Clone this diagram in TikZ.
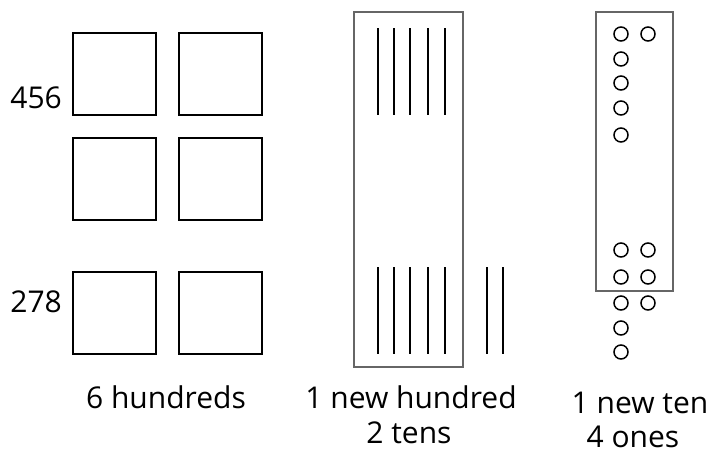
\documentclass[tikz,border=0pt]{standalone}
\usepackage{fontspec}
\setmainfont{Open Sans}
\begin{document}
\begin{tikzpicture}[x=1pt,y=-1pt,
  hsq/.style={draw=black,line width=2pt,minimum width=83pt,minimum height=82pt,inner sep=0pt},
  frame/.style={draw=black!60,line width=1.6pt},
  rod/.style={line width=2pt},
  unit/.style={circle,draw=black,line width=1.5pt,minimum size=14pt,inner sep=0pt},
  lbl/.style={font=\fontsize{30}{35}\selectfont,inner sep=0pt}]
\useasboundingbox (0,0) rectangle (707,453);
% hundreds
\node[hsq] (s1) at (114.5,74) {};
\node[hsq] (s2) at (220.5,74) {};
\node[hsq] (s3) at (114.5,179) {};
\node[hsq] (s4) at (220.5,179) {};
\node[hsq] (s5) at (114.5,313) {};
\node[hsq] (s6) at (220.5,313) {};
\node[lbl,anchor=east] (n456) at (62,97.5) {456};
\node[lbl,anchor=east] (n278) at (62,301.5) {278};
\node[lbl,anchor=base] (t1) at (166,408) {6 hundreds};
% tens
\draw[frame] (354,12) rectangle (463,367);
\foreach \x in {378,394,410,428,445}{
  \draw[rod] (\x,28) -- (\x,115);
  \draw[rod] (\x,267) -- (\x,354);
}
\draw[rod] (487,267) -- (487,354);
\draw[rod] (503,267) -- (503,354);
\node[lbl,anchor=base] (t2) at (411,408) {1 new hundred};
\node[lbl,anchor=base] (t3) at (409,443) {2 tens};
% ones
\draw[frame] (596,12) rectangle (673,291);
\foreach \y [count=\i] in {34,59,83,108,135,250,277,303,328,352}{
  \node[unit] (a\i) at (621,\y) {};
}
\node[unit] (b1) at (648,34) {};
\node[unit] (b2) at (648,250) {};
\node[unit] (b3) at (648,277) {};
\node[unit] (b4) at (648,303) {};
\node[lbl,anchor=base] (t4) at (640,413) {1 new ten};
\node[lbl,anchor=base] (t5) at (633,447) {4 ones};
\end{tikzpicture}
\end{document}
